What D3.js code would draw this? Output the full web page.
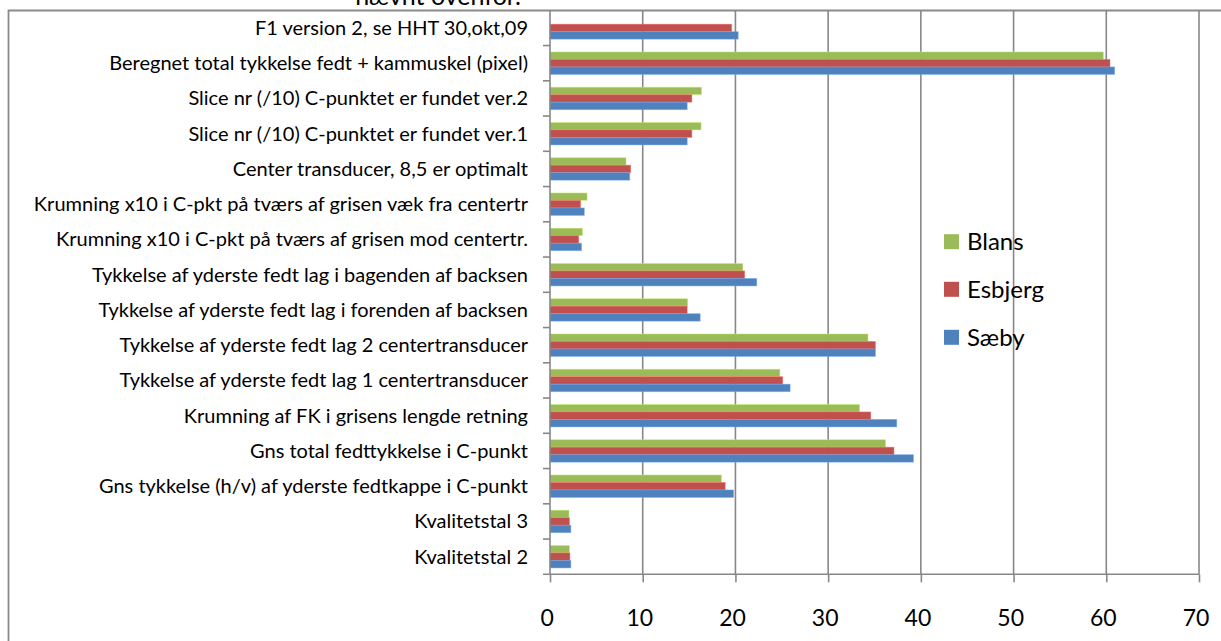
<!DOCTYPE html>
<meta charset="utf-8">
<style>
body { margin: 0; background: #fff; }
text { font-family: Lato, "Open Sans", sans-serif; fill: #000; }
.grid line { stroke: #878787; stroke-width: 1.6px; }
.axis path, .axis line { stroke: #878787; stroke-width: 1.6px; }
.bar { stroke-width: 0.8px; stroke-opacity: 0.55; }
</style>
<body>
<script src="https://d3js.org/d3.v7.min.js"></script>
<script>

// categories, top to bottom as shown
var categories = [
  "F1 version 2, se HHT 30,okt,09",
  "Beregnet total tykkelse fedt + kammuskel (pixel)",
  "Slice nr (/10) C-punktet er fundet ver.2",
  "Slice nr (/10) C-punktet er fundet ver.1",
  "Center transducer, 8,5 er optimalt",
  "Krumning x10 i C-pkt på tværs af grisen væk fra centertr",
  "Krumning x10 i C-pkt på tværs af grisen mod centertr.",
  "Tykkelse af yderste fedt lag i bagenden af backsen",
  "Tykkelse af yderste fedt lag i forenden af backsen",
  "Tykkelse af yderste fedt lag 2 centertransducer",
  "Tykkelse af yderste fedt lag 1 centertransducer",
  "Krumning af FK i grisens lengde retning",
  "Gns total fedttykkelse i C-punkt",
  "Gns tykkelse (h/v) af yderste fedtkappe i C-punkt",
  "Kvalitetstal 3",
  "Kvalitetstal 2"
];

var blans   = [null, 59.7, 16.35, 16.3, 8.2, 4.0, 3.5, 20.8, 14.85, 34.3, 24.8, 33.4, 36.2, 18.5, 2.05, 2.1];
var esbjerg = [19.6, 60.4, 15.3, 15.3, 8.7, 3.3, 3.1, 21.0, 14.8, 35.1, 25.1, 34.6, 37.1, 18.9, 2.1, 2.15];
var saeby   = [20.3, 60.9, 14.8, 14.8, 8.6, 3.7, 3.4, 22.3, 16.2, 35.1, 25.9, 37.4, 39.2, 19.8, 2.25, 2.25];

var seriesNames = ["Blans", "Esbjerg", "Sæby"];
var seriesColors = ["#9bbb59", "#c0504d", "#4f81bd"];
var xTicks = [0, 10, 20, 30, 40, 50, 60, 70];

var W = 1221, H = 641;
var plotLeft = 550, plotRight = 1199, plotTop = 10.3, plotBottom = 574.3;

var svg = d3.select("body").append("svg")
    .attr("width", W)
    .attr("height", H);

// chart border (only left and top visible in the crop)
svg.append("path")
    .attr("d", "M8.5," + H + "V10.5H" + W)
    .attr("fill", "none")
    .attr("stroke", "#8a8a8a")
    .attr("stroke-width", 1.8);

// title, mostly cut off above
svg.append("text")
    .attr("x", 438)
    .attr("y", 5)
    .attr("text-anchor", "middle")
    .style("font-size", "25px")
    .text("nævnt ovenfor.");

var x = d3.scaleLinear().domain([0, 70]).range([plotLeft, plotRight]);
var y = d3.scaleBand().domain(categories).range([plotTop, plotBottom])
    .paddingInner(0.3617).paddingOuter(0.18085);
var ySub = d3.scaleBand().domain(seriesNames).range([0, y.bandwidth()]);

// vertical grid
svg.append("g").attr("class", "grid")
  .selectAll("line")
  .data(xTicks.slice(1))
  .enter().append("line")
    .attr("x1", function(d) { return x(d); })
    .attr("x2", function(d) { return x(d); })
    .attr("y1", plotTop)
    .attr("y2", plotBottom);

// bars
var table = [];
categories.forEach(function(c, i) {
  [blans, esbjerg, saeby].forEach(function(arr, j) {
    if (arr[i] != null) table.push({cat: c, s: seriesNames[j], v: arr[i], color: seriesColors[j]});
  });
});

svg.append("g")
  .selectAll("rect")
  .data(table)
  .enter().append("rect")
    .attr("class", "bar")
    .attr("x", x(0))
    .attr("y", function(d) { return y(d.cat) + ySub(d.s); })
    .attr("width", function(d) { return x(d.v) - x(0); })
    .attr("height", ySub.bandwidth())
    .attr("fill", function(d) { return d.color; })
    .attr("stroke", function(d) { return d3.color(d.color).brighter(0.8); });

// x axis
var xAxis = svg.append("g").attr("class", "axis")
    .attr("transform", "translate(0," + plotBottom + ")")
    .call(d3.axisBottom(x).tickValues(xTicks).tickSize(8).tickSizeOuter(0).tickPadding(27));
xAxis.select(".domain").attr("d", "M543,0H" + plotRight);
xAxis.selectAll("text").style("font-size", "23px").attr("dx", "-0.15em");

// y axis
var step = y.step();
var yAxis = svg.append("g").attr("class", "axis")
    .attr("transform", "translate(" + plotLeft + ",0)");
yAxis.append("line").attr("x1", 0).attr("x2", 0).attr("y1", plotTop).attr("y2", plotBottom);
yAxis.selectAll(".tk")
  .data(categories.slice(1))
  .enter().append("line")
    .attr("x1", -7).attr("x2", 0)
    .attr("y1", function(d) { return y(d) - y.paddingOuter() * step; })
    .attr("y2", function(d) { return y(d) - y.paddingOuter() * step; });
yAxis.selectAll(".lbl")
  .data(categories)
  .enter().append("text")
    .attr("x", -22)
    .attr("y", function(d) { return y(d) + y.bandwidth() / 2; })
    .attr("dy", "0.35em")
    .attr("text-anchor", "end")
    .style("font-size", "20px")
    .text(function(d) { return d; });

// legend
var legend = svg.append("g").attr("transform", "translate(944,0)");
var ly = [241.7, 289.3, 337.3];
seriesNames.forEach(function(n, i) {
  legend.append("rect")
      .attr("x", 0).attr("y", ly[i] - 7.5)
      .attr("width", 15).attr("height", 15)
      .attr("fill", seriesColors[i]);
  legend.append("text")
      .attr("x", 23).attr("y", ly[i])
      .attr("dy", "0.35em")
      .style("font-size", "24px")
      .text(n);
});

</script>
</body>
